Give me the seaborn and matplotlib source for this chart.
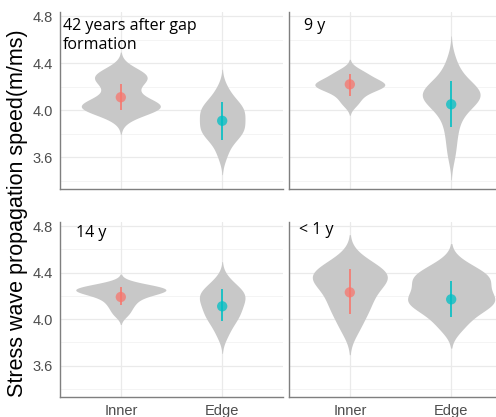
import numpy as np
import pandas as pd
import matplotlib
matplotlib.use("Agg")
import matplotlib.pyplot as plt
import seaborn as sns

# ---- data -------------------------------------------------------------
positions = ["Inner", "Edge"]
panel_labels = ["42 years after gap\nformation", "9 y", "14 y", "< 1 y"]

# samples (m/ms)
p1_inner = [3.93, 3.98, 4.00, 4.01, 4.02, 4.03, 4.03, 4.04, 4.05, 4.06, 4.08,
            4.12, 4.16, 4.20, 4.24, 4.26, 4.28, 4.29, 4.30, 4.32, 4.36]
p1_edge = [3.62, 3.72, 3.78, 3.80, 3.82, 3.84, 3.87, 3.90, 3.93, 3.96, 3.99,
           4.01, 4.03, 4.05, 4.10, 4.18]
p2_inner = [4.05, 4.10, 4.14, 4.17, 4.19, 4.20, 4.21, 4.22, 4.23, 4.24, 4.26,
            4.29, 4.31, 4.34]
p2_edge = [3.62, 3.75, 3.85, 3.93, 3.99, 4.04, 4.07, 4.09, 4.11, 4.12, 4.13,
           4.14, 4.15, 4.17, 4.19, 4.22, 4.26, 4.32, 4.42]
p3_inner = [4.04, 4.09, 4.13, 4.16, 4.19, 4.21, 4.23, 4.24, 4.25, 4.25, 4.26,
            4.26, 4.27, 4.28, 4.30]
p3_edge = [3.86, 3.94, 3.99, 4.02, 4.05, 4.08, 4.11, 4.14, 4.17, 4.19, 4.21,
           4.23, 4.25, 4.28, 4.34]
p4_inner = [3.90, 4.00, 4.07, 4.12, 4.17, 4.22, 4.27, 4.31, 4.34, 4.36, 4.38,
            4.40, 4.42, 4.46, 4.52]
p4_edge = [3.92, 4.00, 4.06, 4.10, 4.13, 4.15, 4.17, 4.19, 4.22, 4.27, 4.31,
           4.34, 4.36, 4.38, 4.42, 4.48]

# mean and error bar ends shown as points (Inner, Edge) per panel
means = [[4.11, 3.91], [4.22, 4.05], [4.19, 4.11], [4.23, 4.17]]
err_low = [[4.00, 3.75], [4.12, 3.86], [4.12, 3.98], [4.04, 4.02]]
err_high = [[4.22, 4.07], [4.31, 4.25], [4.28, 4.26], [4.43, 4.33]]

samples = [(p1_inner, p1_edge), (p2_inner, p2_edge),
           (p3_inner, p3_edge), (p4_inner, p4_edge)]

y_ticks = [3.6, 4.0, 4.4, 4.8]
y_minor = [3.4, 3.8, 4.2, 4.6]
point_colors = ["#F8766D", "#00BFC4"]

# ---- figure -----------------------------------------------------------
sns.set_theme(style="white")
plt.rcParams["font.family"] = ["Liberation Sans", "DejaVu Sans"]

W, H = 496, 417
fig = plt.figure(figsize=(W / 100, H / 100), dpi=100)

def frac_rect(x0, y0, x1, y1):
    return [x0 / W, 1 - y1 / H, (x1 - x0) / W, (y1 - y0) / H]

rects = [frac_rect(60, 12, 283, 189), frac_rect(289, 12, 512, 189),
         frac_rect(60, 222, 283, 397), frac_rect(289, 222, 512, 397)]
# maximum violin width per panel (Inner, Edge), in category units
vwidths = [(0.78, 0.45), (0.69, 0.57), (0.89, 0.45), (0.74, 0.86)]
bw_adj = [(0.85, 0.9), (0.9, 0.9), (0.9, 0.9), (0.9, 0.85)]
label_pos = [(0.013, 0.965), (0.067, 0.965), (0.072, 0.985), (0.045, 1.0)]

for i in range(4):
    ax = fig.add_axes(rects[i])
    # grid
    for y in y_minor:
        ax.axhline(y, color="#F3F3F3", lw=0.6, zorder=0)
    for y in y_ticks:
        ax.axhline(y, color="#EAEAEA", lw=0.9, zorder=0)
    for x in [0, 1]:
        ax.axvline(x, color="#EAEAEA", lw=0.9, zorder=0)

    for j, pos in enumerate(positions):
        vals = samples[i][j]
        df = pd.DataFrame({"position": [pos] * len(vals), "speed": vals})
        sns.violinplot(data=df, x="position", y="speed", order=positions,
                       color="#C8C8C8", saturation=1, inner=None,
                       linewidth=0, width=vwidths[i][j],
                       density_norm="width", cut=2.2,
                       bw_adjust=bw_adj[i][j], ax=ax, zorder=2)

    for j in range(2):
        ax.vlines(j, err_low[i][j], err_high[i][j], color=point_colors[j],
                  lw=1.4, alpha=0.85, zorder=3)
        ax.scatter([j], [means[i][j]], s=55, color=point_colors[j],
                   alpha=0.75, edgecolors="none", zorder=4)

    ax.set_xlim(-0.6, 1.6)
    ax.set_ylim(3.33, 4.835)
    ax.set_yticks(y_ticks)
    ax.set_xticks([0, 1])
    ax.set_xlabel("")
    ax.set_ylabel("")
    for s in ["top", "right"]:
        ax.spines[s].set_visible(False)
    for s in ["left", "bottom"]:
        ax.spines[s].set_color("#7F7F7F")
        ax.spines[s].set_linewidth(1.0)
    ax.set_facecolor("white")
    ax.tick_params(axis="both", colors="#7F7F7F", length=3, width=0.8,
                   labelcolor="#4D4D4D", labelsize=10.5, pad=2)
    if i % 2 == 1:
        ax.tick_params(axis="y", left=False, labelleft=False)
    if i < 2:
        ax.tick_params(axis="x", bottom=False, labelbottom=False)
    else:
        ax.set_xticklabels(positions)
    ax.text(label_pos[i][0], label_pos[i][1], panel_labels[i],
            transform=ax.transAxes, ha="left", va="top", fontsize=11.5,
            family=["Open Sans", "DejaVu Sans"], color="black",
            linespacing=1.25, zorder=5)

fig.text(0.036, 0.489, "Stress wave propagation speed(m/ms)", rotation=90,
         ha="center", va="center", fontsize=15.5, color="black")

fig.savefig("out.png", dpi=100)
